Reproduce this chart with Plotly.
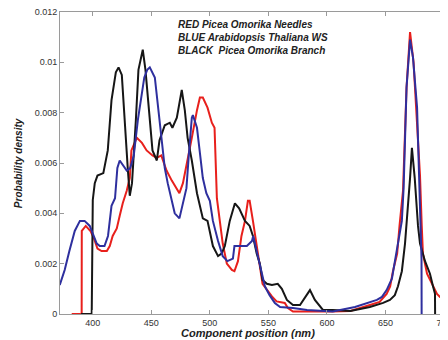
import plotly.graph_objects as go

# ---- data ----
black_x = [390, 399.1, 400, 401.7, 404, 409, 412.8, 416, 419.7, 422, 424.8, 427, 430, 431.6, 433.5,
           436.8, 439, 442.7, 445, 448, 451, 454.7, 457, 461.5, 465.8, 468, 471.8, 476, 478.6, 481,
           484.6, 489, 491.5, 494, 498, 502.6, 507, 510, 512.8, 517, 521.4, 525, 530, 534, 536.8,
           540, 542.7, 545, 548.7, 553, 558, 561.5, 565.8, 571, 577, 581, 585.5, 589.7, 594, 596.6,
           605, 620, 636.7, 648, 653.8, 658, 660.7, 664, 666.7, 669, 671, 672.6, 675, 677.8, 679.5,
           683.8, 688, 690.6, 692.3, 692.4]
black_y = [0, 0, 0.00453, 0.0052, 0.0055, 0.0056, 0.0065, 0.0085, 0.0096, 0.0098, 0.0095, 0.0077,
           0.0057, 0.0047, 0.0052, 0.0077, 0.0097, 0.0105, 0.0097, 0.0081, 0.0065, 0.0061, 0.0069,
           0.0075, 0.0076, 0.0074, 0.0078, 0.0089, 0.0081, 0.0070, 0.0061, 0.0048, 0.0043, 0.0038,
           0.0037, 0.0027, 0.0023, 0.0024, 0.0027, 0.0037, 0.0044, 0.0042, 0.0037, 0.0035, 0.0031,
           0.0024, 0.0020, 0.00135, 0.0012, 0.00115, 0.0012, 0.0010, 0.00056, 0.00036, 0.00036,
           0.00064, 0.00095, 0.00056, 0.00028, 0.00016, 0.00016, 0.00012, 0.00028, 0.00044, 0.00056,
           0.00075, 0.0011, 0.0017, 0.0028, 0.0041, 0.0054, 0.0066, 0.0054, 0.0035, 0.0028, 0.0021,
           0.0016, 0.0011, 0.0008, 0]

blue_x = [371.8, 376, 380, 384.6, 389, 393, 397.4, 400, 403.4, 406, 410, 413, 414.5, 416, 419, 421,
          423, 426, 429, 432, 435, 438.5, 441.5, 444, 446.5, 448.7, 453, 455.5, 459, 461.5, 464,
          467, 470, 474, 477, 480, 482, 484.6, 485.5, 489, 491.5, 494, 497, 500, 502.6, 507, 511,
          515, 519.7, 521, 525.6, 531.6, 536, 537, 541, 544.4, 547, 551, 555.5, 560, 571, 583, 605,
          624, 635, 642.7, 647, 651, 655.5, 658, 660.7, 664, 665.5, 668, 671, 673.5, 677, 679,
          680.8, 680.9]
blue_y = [0.00115, 0.00175, 0.0025, 0.0033, 0.0037, 0.0037, 0.0035, 0.0032, 0.0028, 0.0027, 0.0027,
          0.0031, 0.0037, 0.0043, 0.0046, 0.0058, 0.0061, 0.0059, 0.0057, 0.0058, 0.0063, 0.0077,
          0.0086, 0.0094, 0.0097, 0.0098, 0.0094, 0.0084, 0.0070, 0.0058, 0.0052, 0.0046, 0.0040,
          0.0038, 0.0044, 0.0050, 0.0063, 0.0078, 0.0079, 0.0074, 0.0064, 0.0054, 0.0048, 0.0045,
          0.0037, 0.0029, 0.0023, 0.0021, 0.0022, 0.0027, 0.0027, 0.0027, 0.0029, 0.0031, 0.0023,
          0.0016, 0.0011, 0.00075, 0.00044, 0.00028, 0.00024, 0.00016, 0.0001, 0.00028, 0.00044,
          0.00056, 0.00068, 0.00095, 0.0014, 0.0021, 0.0028, 0.0037, 0.0050, 0.0090, 0.0109,
          0.0102, 0.0082, 0.0050, 0.0022, 0]

red_x = [382, 390.5, 390.6, 394, 398, 401, 404, 407.5, 412, 414.5, 417, 420.5, 423, 425.6, 429,
         431.6, 433, 437.6, 442, 446, 451, 454.7, 458.5, 463, 467.5, 471.8, 474, 477, 481, 484.6,
         489, 491.5, 494, 498, 501.7, 504, 506, 508.5, 511, 514.5, 518.8, 521, 524, 527, 530,
         532.5, 534, 536.8, 540, 542.7, 545, 548.7, 553, 557, 564, 566.7, 571, 605, 620, 636.7,
         645, 651, 654, 656.4, 660, 662, 665, 668, 671, 674, 677, 679.5, 681, 682, 685.5, 688,
         690.6, 694, 696.6, 700]
red_y = [0, 0, 0.0033, 0.0035, 0.0033, 0.0030, 0.0026, 0.0025, 0.0025, 0.0027, 0.0031, 0.0034,
         0.0039, 0.0044, 0.0049, 0.0054, 0.0065, 0.0070, 0.0068, 0.0065, 0.0063, 0.0062, 0.0063,
         0.0057, 0.0053, 0.0050, 0.0048, 0.0052, 0.0061, 0.0070, 0.0081, 0.0086, 0.0086, 0.0082,
         0.0076, 0.0074, 0.0046, 0.0036, 0.0028, 0.0020, 0.00175, 0.0017, 0.0021, 0.0031, 0.0037,
         0.0045, 0.0045, 0.0037, 0.0028, 0.0019, 0.0012, 0.00095, 0.0007, 0.0005, 0.00044, 0.00024,
         0.0001, 0.0001, 0.00012, 0.00036, 0.00048, 0.0008, 0.0011, 0.0017, 0.0024, 0.0035, 0.0049,
         0.0090, 0.0112, 0.0100, 0.0078, 0.0055, 0.0035, 0.0024, 0.0016, 0.00135, 0.0011, 0.0008,
         0.00068, 0.00068]

x_ticks = [400, 450, 500, 550, 600, 650, 700]
y_ticks = [0, 0.002, 0.004, 0.006, 0.008, 0.01, 0.012]
y_tick_labels = ["0", "0.002", "0.004", "0.006", "0.008", "0.01", "0.012"]
legend_lines = ["RED Picea Omorika Needles",
                "BLUE Arabidopsis Thaliana WS",
                "BLACK  Picea Omorika Branch"]
x_title = "Component position (nm)"
y_title = "Probability density"

FONT = "Liberation Sans, Arial"

fig = go.Figure()
fig.add_trace(go.Scatter(x=red_x, y=red_y, mode="lines",
                         line=dict(color="#e8201c", width=2), showlegend=False))
fig.add_trace(go.Scatter(x=black_x, y=black_y, mode="lines",
                         line=dict(color="#161616", width=2), showlegend=False))
fig.add_trace(go.Scatter(x=blue_x, y=blue_y, mode="lines",
                         line=dict(color="#2e2f9e", width=2), showlegend=False))

fig.add_annotation(xref="paper", yref="paper", x=0.303, y=0.985, xanchor="left", yanchor="top",
                   align="left", showarrow=False,
                   text="<br>".join("<b><i>%s</i></b>" % s for s in legend_lines),
                   font=dict(family=FONT, size=10, color="#222"))
fig.add_annotation(xref="paper", yref="paper", x=0.49, y=-0.064, xanchor="center", yanchor="middle",
                   showarrow=False, text="<b><i>%s</i></b>" % x_title,
                   font=dict(family=FONT, size=11, color="#222"))
fig.add_annotation(xref="paper", yref="paper", x=-0.109, y=0.5, xanchor="center", yanchor="middle",
                   showarrow=False, textangle=-90, text="<b><i>%s</i></b>" % y_title,
                   font=dict(family=FONT, size=10, color="#222"))

axis_common = dict(showline=True, linecolor="#9a9a9a", linewidth=1, mirror="ticks",
                   ticks="inside", ticklen=4, tickcolor="#9a9a9a", showgrid=False,
                   zeroline=False, automargin=False, ticklabeloverflow="allow",
                   tickfont=dict(family=FONT, size=9, color="#333"))
fig.update_xaxes(range=[372, 700], tickvals=x_ticks, **axis_common)
fig.update_yaxes(range=[0, 0.012], tickvals=y_ticks, ticktext=y_tick_labels, **axis_common)

# the page body adds an 8px offset, so the figure is sized to the visible area
fig.update_layout(width=440, height=332, margin=dict(l=52, r=4, t=4, b=26),
                  plot_bgcolor="white", paper_bgcolor="white")
fig.write_html("out.html")
